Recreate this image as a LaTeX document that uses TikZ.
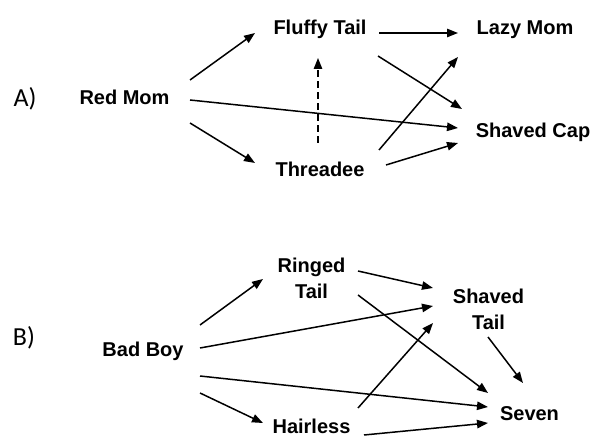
\documentclass[tikz,border=0pt]{standalone}
\usepackage{fontspec}
\setmainfont{Liberation Sans}
\newfontfamily\panelfont{Carlito}
\usetikzlibrary{arrows.meta}
\tikzset{
  lbl/.style={font=\bfseries\fontsize{10}{13}\selectfont, inner sep=0pt, align=center},
  panel/.style={font=\panelfont\fontsize{13}{15}\selectfont, inner sep=0pt, anchor=base},
  arr/.style={line width=0.75pt, -{Triangle[length=5.5pt,width=4.2pt]}},
  dasharr/.style={arr, dash pattern=on 3.5pt off 2pt}
}
\begin{document}
\begin{tikzpicture}[x=0.5pt,y=-0.5pt]
\useasboundingbox (0,0) rectangle (593,437);
% Panel A
\node[panel] (pa) at (25,107) {A)};
\node[lbl, anchor=base] (rm) at (124.5,105) {Red Mom};
\node[lbl, anchor=base] (ft) at (320,35) {Fluffy Tail};
\node[lbl, anchor=base] (lm) at (525,35) {Lazy Mom};
\node[lbl, anchor=base] (sc) at (533,138) {Shaved Cap};
\node[lbl, anchor=base] (th) at (320,177) {Threadee};
\draw[arr] ([shift={(65.5,-25)}]rm.base) -- ([shift={(-65,-2)}]ft.base);
\draw[arr] ([shift={(65.5,18)}]rm.base) -- ([shift={(-65,-14)}]th.base);
\draw[arr] ([shift={(65.5,-5)}]rm.base) -- ([shift={(-75,-10)}]sc.base);
\draw[arr] ([shift={(59,-2)}]ft.base) -- ([shift={(-67,-2)}]lm.base);
\draw[arr] ([shift={(58,21)}]ft.base) -- ([shift={(-71,-29)}]sc.base);
\draw[arr] ([shift={(59,-27)}]th.base) -- ([shift={(-67,22)}]lm.base);
\draw[arr] ([shift={(66,-12)}]th.base) -- ([shift={(-75,5)}]sc.base);
\draw[dasharr] ([shift={(-2,-34)}]th.base) -- ([shift={(-2,23)}]ft.base);
% Panel B
\node[panel] (pb) at (24,346) {B)};
\node[lbl, anchor=base] (bb) at (143,357) {Bad Boy};
\node[lbl] (rt) at (311.5,278.7) {Ringed\\Tail};
\node[lbl, anchor=base] (hl) at (311.5,433) {Hairless};
\node[lbl] (st) at (488.5,309.7) {Shaved\\Tail};
\node[lbl, anchor=base] (sv) at (529.5,420) {Seven};
\draw[arr] ([shift={(57,-32)}]bb.base) -- ([shift={(-48.5,0.3)}]rt.center);
\draw[arr] ([shift={(57,-9)}]bb.base) -- ([shift={(-55.5,-3.7)}]st.center);
\draw[arr] ([shift={(57,19)}]bb.base) -- ([shift={(-41.5,-13)}]sv.base);
\draw[arr] ([shift={(57,36)}]bb.base) -- ([shift={(-48.5,-10)}]hl.base);
\draw[arr] ([shift={(46.5,-7.7)}]rt.center) -- ([shift={(-55.5,-21.7)}]st.center);
\draw[arr] ([shift={(46.5,16.3)}]rt.center) -- ([shift={(-41.5,-27)}]sv.base);
\draw[arr] ([shift={(46.5,-25)}]hl.base) -- ([shift={(-55.5,13.3)}]st.center);
\draw[arr] ([shift={(52.5,2)}]hl.base) -- ([shift={(-41.5,3)}]sv.base);
\draw[arr] ([shift={(-0.5,27.3)}]st.center) -- ([shift={(-6.5,-37)}]sv.base);
\end{tikzpicture}
\end{document}
